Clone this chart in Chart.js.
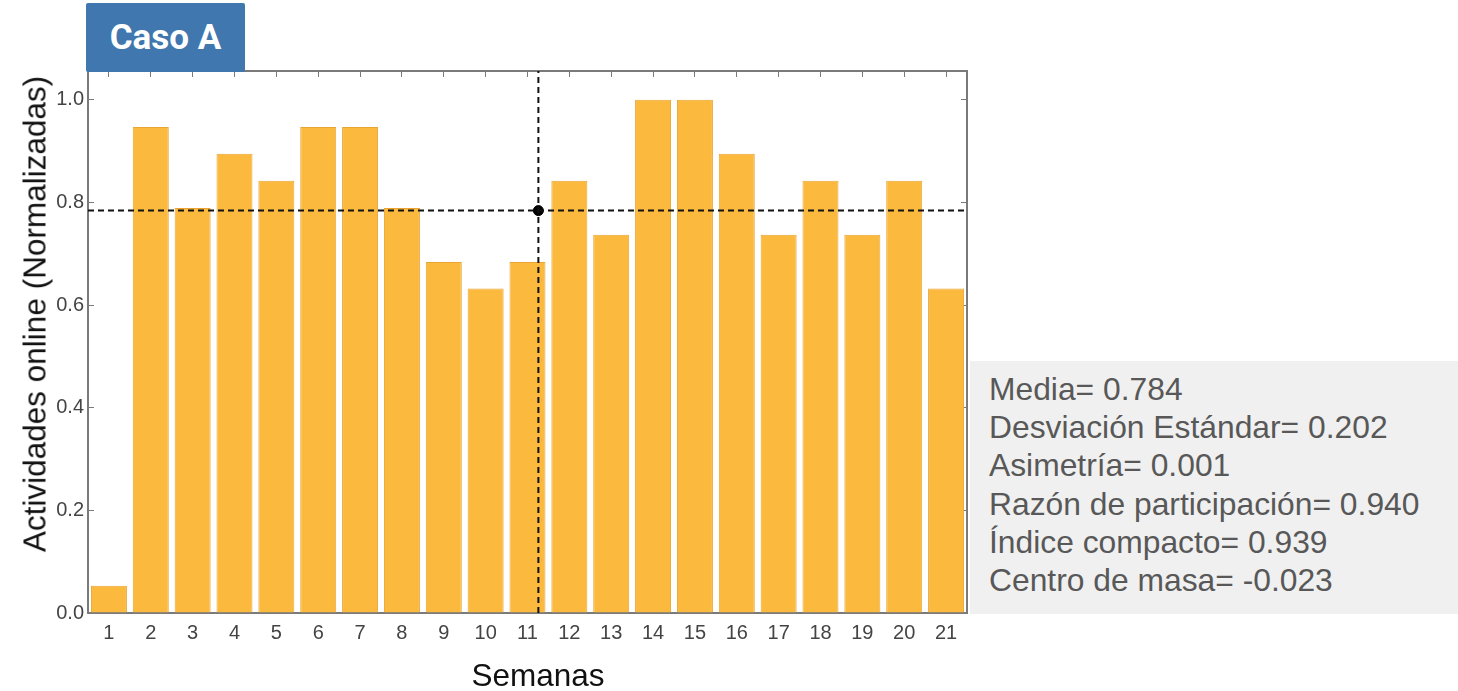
<!DOCTYPE html>
<html>
<head>
<meta charset="utf-8">
<script src="https://cdn.jsdelivr.net/npm/chart.js@4/dist/chart.umd.min.js"></script>
<style>
  body { margin: 0; background: #fff; width: 1458px; height: 691px; position: relative; overflow: hidden; font-family: "Liberation Sans", Arial, sans-serif; }
  #wrap { position: absolute; left: 0; top: 0; width: 975px; height: 691px; }
  #badge { position: absolute; left: 86px; top: 3px; width: 159px; height: 69px; background: #3f77ae; border-radius: 2px;
           color: #fff; font: 700 35px Roboto, sans-serif; line-height: 69px; text-align: center; }
  #ytitle { position: absolute; left: 35px; top: 314px; transform: translate(-50%, -50%) rotate(-90deg); white-space: nowrap; font-size: 31.5px; color: #111; }
  #xtitle { position: absolute; left: 538px; top: 675px; transform: translate(-50%, -50%); font-size: 31.5px; color: #111; }
  #stats { position: absolute; left: 970px; top: 361px; width: 488px; height: 253px; background: #f0f0f0; }
  #stats div { position: absolute; left: 19px; font-size: 31.8px; color: #585858; white-space: nowrap; }
</style>
</head>
<body>
<div id="wrap"><canvas id="chart" width="975" height="691"></canvas></div>
<div id="badge">Caso A</div>
<div id="ytitle">Actividades online (Normalizadas)</div>
<div id="xtitle">Semanas</div>
<div id="stats"></div>
<script>
// semanas y actividades normalizadas
const semanas = [1,2,3,4,5,6,7,8,9,10,11,12,13,14,15,16,17,18,19,20,21];
const actividades = [0.053,0.947,0.789,0.895,0.842,0.947,0.947,0.789,0.684,0.632,0.684,0.842,0.737,1.0,1.0,0.895,0.737,0.842,0.737,0.842,0.632];
const yTicks = [0, 0.2, 0.4, 0.6, 0.8, 1.0];
const media = 0.784;
const centroX = 11.26;
const stats = [
  "Media= 0.784",
  "Desviación Estándar= 0.202",
  "Asimetría= 0.001",
  "Razón de participación= 0.940",
  "Índice compacto= 0.939",
  "Centro de masa= -0.023"
];

const statsBox = document.getElementById("stats");
stats.forEach((s, i) => {
  const d = document.createElement("div");
  d.textContent = s;
  d.style.top = (10 + i * 38.2) + "px";
  statsBox.appendChild(d);
});

const frame = "#7a7a7a";
const xMin = 0.5, xMax = 21.5, yMax = 1.056;

const inner = (extra) => Object.assign({
  grid: { drawOnChartArea: false, drawTicks: true, tickLength: -6, color: frame, lineWidth: 1, offset: false },
  border: { display: true, color: frame, width: 2 }
}, extra);

new Chart(document.getElementById("chart"), {
  type: "bar",
  data: {
    datasets: [
      {
        type: "line",
        data: [{ x: xMin, y: media }, { x: xMax, y: media }],
        borderColor: "#111", borderWidth: 2, borderDash: [6, 4],
        pointRadius: 0, order: 0
      },
      {
        type: "line",
        data: [{ x: centroX, y: 0 }, { x: centroX, y: yMax }],
        borderColor: "#111", borderWidth: 2, borderDash: [6, 4],
        pointRadius: 0, order: 0
      },
      {
        type: "scatter",
        data: [{ x: centroX, y: media }],
        backgroundColor: "#000", borderColor: "#000", pointRadius: 5, order: 0
      },
      {
        label: "Actividades",
        data: semanas.map((s, i) => ({ x: s, y: actividades[i] })),
        backgroundColor: "#fbb93e",
        borderColor: "#e9a534",
        borderWidth: 1,
        barPercentage: 0.86,
        categoryPercentage: 1,
        order: 1
      }
    ]
  },
  options: {
    responsive: false,
    animation: false,
    devicePixelRatio: 1,
    layout: { padding: { top: 71, right: 8, left: 0, bottom: 0 } },
    plugins: { legend: { display: false }, tooltip: { enabled: false } },
    scales: {
      x: inner({
        type: "linear", position: "bottom", min: xMin, max: xMax, offset: false,
        afterBuildTicks: a => { a.ticks = semanas.map(v => ({ value: v })); },
        afterFit: a => { a.height = 78; },
        ticks: { color: "#444", font: { size: 20, family: "Liberation Sans" }, padding: 14, maxRotation: 0, autoSkip: false }
      }),
      y: inner({
        min: 0, max: yMax,
        afterBuildTicks: a => { a.ticks = yTicks.map(v => ({ value: v })); },
        afterFit: a => { a.width = 88; },
        ticks: { color: "#444", font: { size: 20, family: "Liberation Sans" }, padding: 10, callback: v => v.toFixed(1) }
      }),
      x2: inner({
        type: "linear", position: "top", min: xMin, max: xMax, offset: false,
        afterBuildTicks: a => { a.ticks = semanas.map(v => ({ value: v })); },
        afterFit: a => { a.height = 0; },
        ticks: { display: false }
      }),
      y2: inner({
        type: "linear", position: "right", min: 0, max: yMax,
        afterBuildTicks: a => { a.ticks = yTicks.map(v => ({ value: v })); },
        afterFit: a => { a.width = 0; },
        ticks: { display: false }
      })
    }
  }
});
</script>
</body>
</html>
